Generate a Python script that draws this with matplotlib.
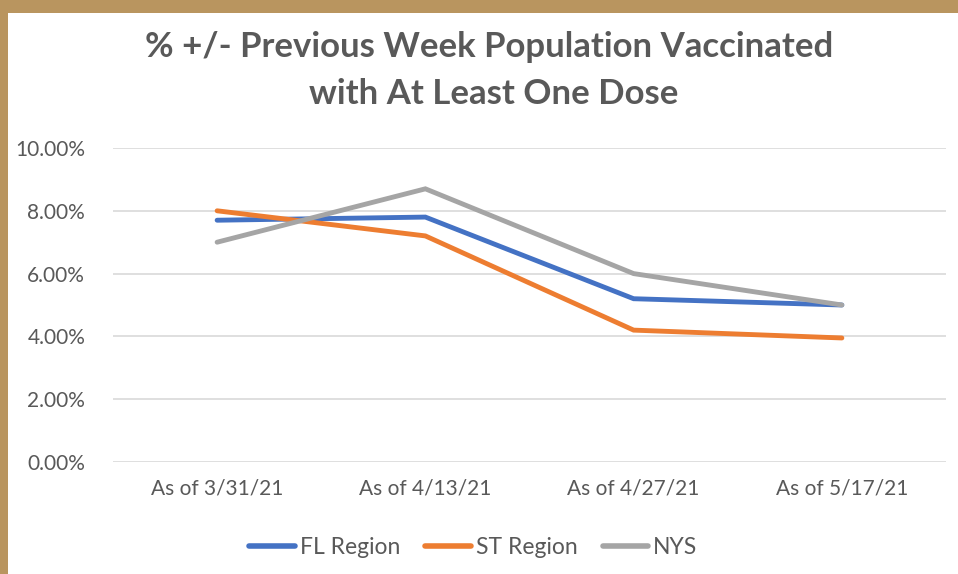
import matplotlib
matplotlib.use('Agg')
import matplotlib.pyplot as plt
from matplotlib.patches import Rectangle
from matplotlib.lines import Line2D
from matplotlib.ticker import FuncFormatter

plt.rcParams['font.family'] = ['Lato', 'DejaVu Sans']

# Veriler
categories = ['As of 3/31/21', 'As of 4/13/21', 'As of 4/27/21', 'As of 5/17/21']
fl_region = [7.7, 7.8, 5.2, 5.0]
st_region = [8.0, 7.2, 4.2, 3.95]
nys = [7.0, 8.7, 6.0, 5.0]
series_names = ['FL Region', 'ST Region', 'NYS']
y_ticks = [0, 2, 4, 6, 8, 10]

colors = ['#4472C4', '#ED7D31', '#A5A5A5']
text_gray = '#595959'

W, H = 958, 574
fig = plt.figure(figsize=(W / 100, H / 100), dpi=100)
fig.patch.set_facecolor('#B9955F')
# beyaz kart (sol ve üst çerçeve tan renk)
fig.patches.append(Rectangle((8 / W, 0), 1 - 8 / W, 1 - 13 / H,
                             transform=fig.transFigure, facecolor='white',
                             edgecolor='none', zorder=-5))

ax = fig.add_axes([113 / W, (H - 462) / H, (946 - 113) / W, (462 - 148) / H])
ax.set_facecolor('white')

x = list(range(len(categories)))
for vals, c, name in zip([fl_region, st_region, nys], colors, series_names):
    ax.plot(x, vals, color=c, lw=3.5, solid_capstyle='round',
            solid_joinstyle='miter', label=name, zorder=3)

ax.set_xlim(-0.5, len(categories) - 0.5)
ax.set_ylim(0, 10)
ax.set_yticks(y_ticks)
ax.yaxis.set_major_formatter(FuncFormatter(lambda v, p: f'{v:.2f}%'))
ax.set_xticks(x)
ax.set_xticklabels(categories)
ax.grid(axis='y', color='#D9D9D9', lw=1.2)
ax.set_axisbelow(True)
for s in ax.spines.values():
    s.set_visible(False)
ax.tick_params(length=0, colors=text_gray, labelsize=15)
ax.tick_params(axis='y', pad=20)
ax.tick_params(axis='x', pad=12)

fig.text(0.511, 1 - 47 / H, '% +/- Previous Week Population Vaccinated',
         ha='center', va='center', fontsize=25, fontweight='bold', color=text_gray)
fig.text(0.515, 1 - 94 / H, 'with At Least One Dose',
         ha='center', va='center', fontsize=25, fontweight='bold', color=text_gray)

handles = [Line2D([0], [0], color=c, lw=4, solid_capstyle='round') for c in colors]
leg = fig.legend(handles, series_names, loc='center', bbox_to_anchor=(0.494, 1 - 548 / H),
                 ncol=3, frameon=False, fontsize=16.5, handlelength=2.0,
                 handletextpad=0.2, columnspacing=1.1)
for t in leg.get_texts():
    t.set_color(text_gray)

fig.savefig('out.png', dpi=100, facecolor=fig.get_facecolor())
